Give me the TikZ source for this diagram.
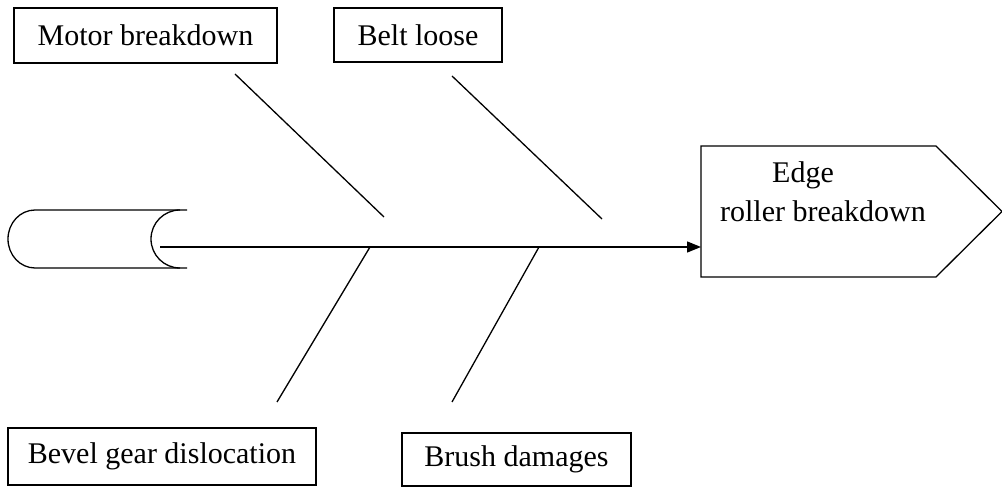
\documentclass[tikz,border=0pt]{standalone}
\usepackage{fontspec}
\setmainfont{Liberation Serif}
\usetikzlibrary{arrows.meta}
\begin{document}
\begin{tikzpicture}[x=1pt,y=1pt,line width=1.3pt,
  causebox/.style={draw, rectangle, inner sep=0pt, font=\fontsize{30}{36}\selectfont},
  lbl/.style={inner sep=0pt, font=\fontsize{30}{36}\selectfont, anchor=base},
  bone/.style={black}]
\useasboundingbox (0,0) rectangle (1002,487);
\begin{scope}
\clip (0,0) rectangle (1002,487);
% cause boxes
\node[causebox, minimum width=263pt, minimum height=55pt] (motor) at (145.5,451.5) {Motor breakdown};
\node[causebox, minimum width=168pt, minimum height=54pt] (belt) at (418,452) {Belt loose};
\node[causebox, minimum width=308pt, minimum height=57pt] (bevel) at (162,30.5) {Bevel gear dislocation};
\node[causebox, minimum width=229pt, minimum height=53pt] (brush) at (516.5,27.5) {Brush damages};
% tail (cylinder)
\draw (187,277) -- (35,277) arc[start angle=90, end angle=270, x radius=27, y radius=29] -- (187,219);
\draw (180,277) arc[start angle=90, end angle=270, x radius=29, y radius=29];
% head (pentagon)
\draw (701,341) -- (936,341) -- (1002,275.5) -- (936,210) -- (701,210) -- cycle;
\coordinate (headin) at (701,240);
\coordinate (tail) at (160,240);
\node[lbl] (edge) at (803,304) {Edge};
\node[lbl] (roller) at (823,265) {roller breakdown};
% spine
\draw[-{Triangle[length=14pt,width=11pt]}] (tail) -- (headin);
% bones
\coordinate (u1a) at (235,413); \coordinate (u1b) at (384,270);
\coordinate (u2a) at (452,411); \coordinate (u2b) at (602,268);
\coordinate (l1a) at (370,240); \coordinate (l1b) at (277,85);
\coordinate (l2a) at (539,240); \coordinate (l2b) at (452,85);
\draw[bone] (u1a) -- (u1b);
\draw[bone] (u2a) -- (u2b);
\draw[bone] (l1a) -- (l1b);
\draw[bone] (l2a) -- (l2b);
\end{scope}
\end{tikzpicture}
\end{document}
